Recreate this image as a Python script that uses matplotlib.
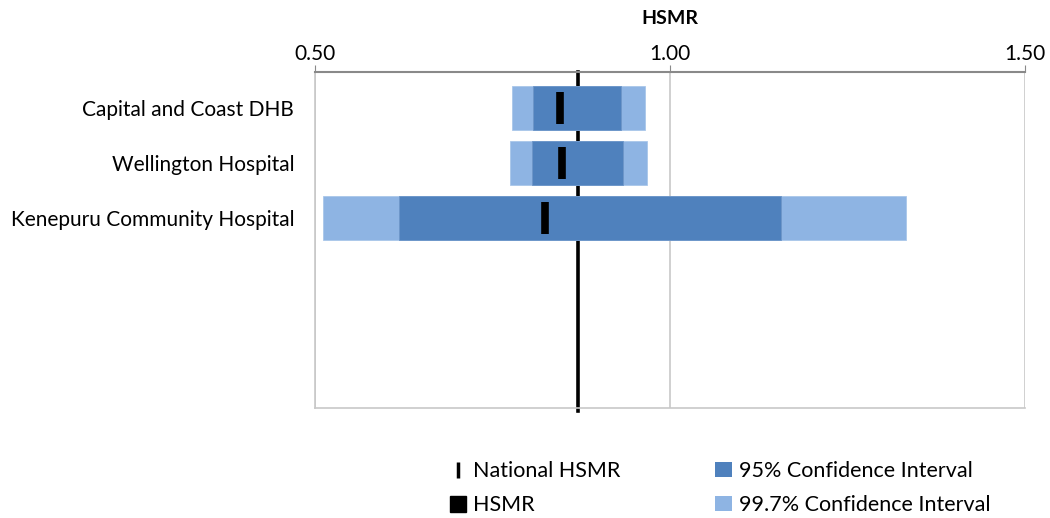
import matplotlib.pyplot as plt
from matplotlib.lines import Line2D
from matplotlib.patches import Patch

plt.rcParams["font.family"] = ["Lato", "DejaVu Sans"]

hospitals = ["Capital and Coast DHB", "Wellington Hospital", "Kenepuru Community Hospital"]
hsmr = [0.845, 0.848, 0.824]
ci95_low = [0.807, 0.806, 0.618]
ci95_high = [0.931, 0.934, 1.156]
ci997_low = [0.777, 0.775, 0.511]
ci997_high = [0.965, 0.968, 1.332]
national_hsmr = 0.870
x_ticks = [0.50, 1.00, 1.50]

DARK = "#4F81BD"
LIGHT = "#8EB4E3"


def main():
    fig = plt.figure(figsize=(10.5, 5.18), dpi=100)
    ax = fig.add_axes([0.3, 0.2124, 0.6762, 0.6486])

    ypos = list(range(len(hospitals)))

    # national line sits behind the bands
    ax.axvline(national_hsmr, color="black", linewidth=2.6, zorder=1, clip_on=False,
               ymin=-0.008, ymax=1)

    # 99.7% band underneath, 95% band on top
    ax.barh(ypos, [h - l for l, h in zip(ci997_low, ci997_high)], left=ci997_low,
            height=0.8, color=LIGHT, edgecolor="#A9C6EA", linewidth=0.6, zorder=2)
    ax.barh(ypos, [h - l for l, h in zip(ci95_low, ci95_high)], left=ci95_low,
            height=0.8, color=DARK, edgecolor="#6D96C9", linewidth=0.6, zorder=3)

    ax.plot(hsmr, ypos, linestyle="none", marker="|", markersize=23, markeredgewidth=5.5,
            color="black", zorder=5)

    ax.set_xlim(0.5, 1.5)
    ax.set_ylim(5.45, -0.65)
    ax.set_xticks(x_ticks)
    ax.set_xticklabels([f"{v:.2f}" for v in x_ticks], fontsize=15)
    ax.xaxis.tick_top()
    ax.xaxis.set_label_position("top")
    ax.set_xlabel("HSMR", fontsize=14, fontweight="bold", labelpad=14)
    ax.tick_params(axis="x", direction="out", length=5, color="#898989", pad=1)

    ax.set_yticks(ypos)
    ax.set_yticklabels(hospitals, fontsize=15)
    ax.tick_params(axis="y", length=0, pad=15)

    ax.grid(axis="x", color="#C8C8C8", linewidth=1.2, zorder=0)
    ax.set_axisbelow(True)
    ax.spines["top"].set_color("#898989")
    ax.spines["top"].set_linewidth(1.5)
    for side in ["left", "right", "bottom"]:
        ax.spines[side].set_color("#C8C8C8")
        ax.spines[side].set_linewidth(1.2)
    ax.spines["right"].set_visible(False)

    handles = [
        Line2D([], [], linestyle="none", marker="|", markersize=12, markeredgewidth=2.5,
               color="black", label="National HSMR"),
        Line2D([], [], linestyle="none", marker="s", markersize=11, color="black",
               label="HSMR"),
        Patch(facecolor=DARK, label="95% Confidence Interval"),
        Patch(facecolor=LIGHT, label="99.7% Confidence Interval"),
    ]
    fig.legend(handles=handles, ncol=2, loc="upper left", bbox_to_anchor=(0.418, 0.13),
               frameon=False, fontsize=15.5, handlelength=0.75, handletextpad=0.35,
               columnspacing=4.4, labelspacing=0.65, borderpad=0)

    fig.savefig("out.png", dpi=100)
    plt.close(fig)


if __name__ == "__main__":
    main()
